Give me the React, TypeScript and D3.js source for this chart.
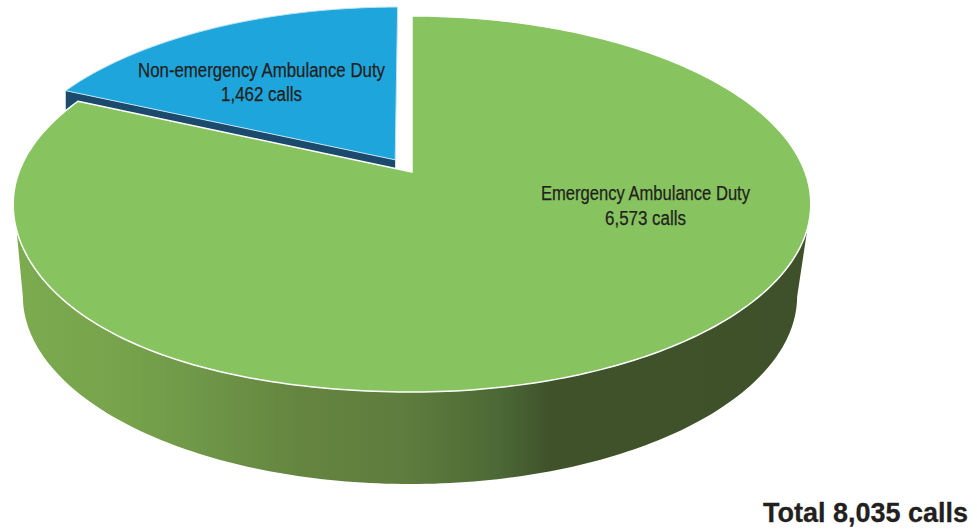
import React from "react";
import * as d3 from "d3";

const categories = ["Emergency Ambulance Duty", "Non-emergency Ambulance Duty"];
const calls = [6573, 1462];
const callLabels = ["6,573 calls", "1,462 calls"];
const totalLabel = "Total 8,035 calls";
const sliceColors = ["#87c35f", "#1ea5db"];

const W = 977, H = 529;
const K = 0.17;
const top = { cx: 412, cy: 172, a: 393, b: 182.6 };
const low = { cx: 410, cy: 264, a: 381.5, b: 182.6 };
const EXPLODE = 0.08;

type P = { cx: number; cy: number; a: number; b: number };
// angle measured clockwise from the back of the disc, r in disc radii, offsets in disc units
const proj = (p: P, th: number, r = 1, du = 0, dv = 0): [number, number] => {
  const u = r * Math.sin(th) + du;
  const v = -r * Math.cos(th) + dv;
  const w = 1 - K * v;
  // the drawn disc bulges a little at its front-left
  const bulge = p === top && u < 0 && v > 0 ? 20 * u * u * v * v : 0;
  return [p.cx + (p.a * u) / w, p.cy + (p.b * v) / w + bulge];
};

const line = d3.line();
const sweep = (a0: number, a1: number, n = 160) =>
  d3.range(n + 1).map((i) => a0 + ((a1 - a0) * i) / n);
const deg = (d: number) => (d * Math.PI) / 180;

export default function App() {
  const arcs = d3.pie<number>().sort(null)(calls);
  const green = arcs[0], blue = arcs[1];

  const greenPts = [
    proj(top, 0, 0),
    ...sweep(green.startAngle, green.endAngle, 300).map((t) => proj(top, t)),
  ];

  const mid = (blue.startAngle + blue.endAngle) / 2;
  const du = EXPLODE * Math.sin(mid), dv = -EXPLODE * Math.cos(mid);
  const bluePts = [
    proj(top, 0, 0, du, dv),
    ...sweep(blue.startAngle, blue.endAngle, 80).map((t) => proj(top, t, 1, du, dv)),
  ];
  const apex = proj(top, 0, 0, du, dv);
  const corner = proj(top, blue.startAngle, 1, du, dv);
  const blueCut: [number, number][] = [
    apex, corner,
    [corner[0], corner[1] + 20],
    [apex[0], apex[1] + 20],
  ];

  const sidePts = [
    ...sweep(deg(107), deg(253)).map((t) => proj(top, t)),
    ...sweep(deg(260), deg(100)).map((t) => proj(low, t)),
  ];

  const font = "'Liberation Sans', Arial, sans-serif";
  const ink = "#231f20";
  const label = (s: string, x: number, y: number, len: number) => (
    <text x={x} y={y} textAnchor="middle" fontFamily={font} fontSize={19.5} fill={ink}
      stroke={ink} strokeWidth={0.25}
      textLength={len} lengthAdjust="spacingAndGlyphs">{s}</text>
  );

  return (
    <svg width={W} height={H} viewBox={`0 0 ${W} ${H}`}
      style={{ position: "absolute", left: 0, top: 0, background: "#fff" }}>
      <defs>
        <linearGradient id="side" gradientUnits="userSpaceOnUse" x1={14} x2={808} y1={0} y2={0}>
          <stop offset="0" stopColor="#7cab50" />
          <stop offset="0.146" stopColor="#76a24b" />
          <stop offset="0.234" stopColor="#6f9748" />
          <stop offset="0.36" stopColor="#648540" />
          <stop offset="0.486" stopColor="#5f7d3e" />
          <stop offset="0.55" stopColor="#567439" />
          <stop offset="0.612" stopColor="#4c6836" />
          <stop offset="0.675" stopColor="#3f522a" />
          <stop offset="1" stopColor="#3f512a" />
        </linearGradient>
      </defs>
      <path d={line(sidePts)! + "Z"} fill="url(#side)" />
      <path d={line(blueCut)! + "Z"} fill="#1b4a6d" />
      <path d={line(bluePts)! + "Z"} fill={sliceColors[1]} stroke="#bfe3f3" strokeWidth={1} />
      <path d={line(greenPts)! + "Z"} fill={sliceColors[0]} stroke="#fff" strokeWidth={1.5} strokeLinejoin="round" />
      {label(categories[1], 261.5, 76.5, 247)}
      {label(callLabels[1], 261.5, 101, 81)}
      {label(categories[0], 645.5, 200, 209)}
      {label(callLabels[0], 645.5, 225, 81)}
      <text x={763} y={522} fontFamily={font} fontSize={28} fontWeight="bold" fill={ink}
        stroke={ink} strokeWidth={0.3}
        textLength={205} lengthAdjust="spacingAndGlyphs">{totalLabel}</text>
    </svg>
  );
}
